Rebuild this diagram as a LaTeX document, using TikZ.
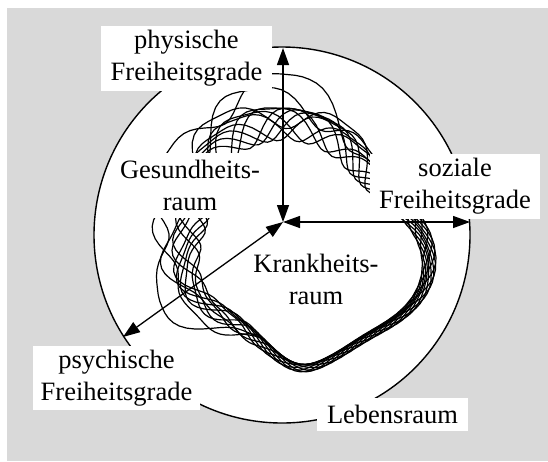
\documentclass[tikz,border=0pt]{standalone}
\usepackage{fontspec}
\setmainfont{Liberation Serif}
\usetikzlibrary{arrows.meta}
\definecolor{bggray}{RGB}{217,217,217}
\begin{document}
\begin{tikzpicture}[x=1pt,y=-1pt,
  lbl/.style={inner sep=0pt,align=center,font=\fontsize{26.5}{32}\selectfont},
  box/.style={lbl,fill=white},
  dbl/.style={line width=1.3pt,{Triangle[length=17pt,width=12pt]}-{Triangle[length=17pt,width=12pt]}},
  wave/.style={line width=1.2pt,line join=round},
  declare function={
    Rm(\u)=117.3+5.3*cos(\u)+0.9*sin(\u)-0.4*cos(2*\u)-7.9*sin(2*\u)+4.3*cos(3*\u)
      -5.3*sin(3*\u)+2.9*cos(4*\u)+1.0*sin(4*\u)+1.9*cos(5*\u)-2.3*sin(5*\u)
      -10*exp(-((\u-232)/28)^2)-5*exp(-((\u-305)/20)^2)+6*exp(-((\u-272)/12)^2);
    Am(\u)=10+6*sin(\u)-3*cos(\u);
    bump(\u)=min(1,max(0,1.5*cos((\u-145)*0.857)));
    rr(\u,\v,\w)=Rm(\u)+Am(\u)*(sin(6*\u+\v)+0.3*sin(13*\u+2*\v))+\w*bump(\u);
  }]
  \useasboundingbox (0,0) rectangle (548,461);
  \fill[bggray] (7,8) rectangle (548,461);
  % Lebensraum
  \draw[line width=1.4pt,fill=white] (282,235) circle (188pt);
  % Krankheitsraum, boundary at several times
  \foreach \p/\c in {0/0,33/0,65/12,98/0,131/0,164/22,196/0,229/0,262/34,295/0,327/0} {
    \draw[wave] plot[domain=0:360,samples=145,variable=\t]
      ({295+rr(\t,\p,\c)*cos(\t)},{245-rr(\t,\p,\c)*sin(\t)}) -- cycle;
  }
  % labels
  \node[box,minimum width=171pt,minimum height=65pt] (phys) at (186.5,58.5) {physische\\Freiheitsgrade};
  \node[box,minimum width=170pt,minimum height=65pt] (soz) at (455,186.5) {soziale\\Freiheitsgrade};
  \node[box,minimum width=167pt,minimum height=64pt] (psy) at (116.5,378) {psychische\\Freiheitsgrade};
  \node[box,minimum width=151pt,minimum height=33pt] (leben) at (392.5,414.5) {Lebensraum};
  \node[box,minimum width=148pt,minimum height=65pt] (gesund) at (190,185.5) {Gesundheits-\\raum};
  \node[lbl] (krank) at (316,279) {Krankheits-\\raum};
  % axes
  \coordinate (O) at (283,222);
  \coordinate (up) at (283,48);
  \coordinate (right) at (470,222);
  \coordinate (low) at (123,337);
  \draw[dbl] (O) -- (up);
  \draw[dbl] (O) -- (right);
  \draw[dbl] (O) -- (low);
\end{tikzpicture}
\end{document}
